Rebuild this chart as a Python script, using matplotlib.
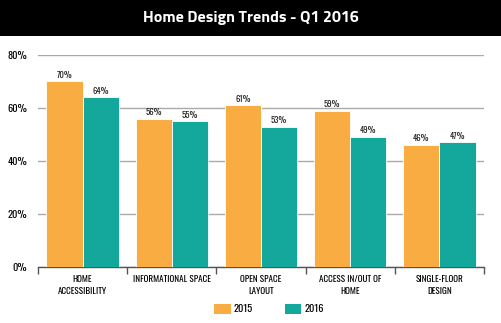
import numpy as np
from matplotlib import pyplot as plt
from matplotlib.patches import Patch

categories = ["HOME\nACCESSIBILITY", "INFORMATIONAL SPACE", "OPEN SPACE\nLAYOUT",
              "ACCESS IN/OUT OF\nHOME", "SINGLE-FLOOR\nDESIGN"]
vals_2015 = [70, 56, 61, 59, 46]
vals_2016 = [64, 55, 53, 49, 47]
yticks = [0, 20, 40, 60, 80]

orange = "#F9AC42"
teal = "#14A89D"
narrow = ["Oswald", "Roboto Condensed", "DejaVu Sans"]

fig = plt.figure(figsize=(5.01, 3.23), dpi=100)
fig.patch.set_facecolor("white")

# black title band
band = fig.add_axes([0, 1 - 36 / 323, 1, 36 / 323])
band.set_facecolor("black")
band.set_xticks([])
band.set_yticks([])
for s in band.spines.values():
    s.set_visible(False)
band.text(0.5, 0.5, "Home Design Trends - Q1 2016", color="white", fontsize=11.5,
          fontweight="bold", family=["Titillium Web", "Open Sans", "DejaVu Sans"],
          ha="center", va="center")

ax = fig.add_axes([38 / 501, 1 - 267 / 323, 446 / 501, 212 / 323])
x = np.arange(len(categories))
w = 0.405
b1 = ax.bar(x - w / 2, vals_2015, w, color=orange, edgecolor="white", linewidth=0.6, zorder=3)
b2 = ax.bar(x + w / 2, vals_2016, w, color=teal, edgecolor="white", linewidth=0.6, zorder=3)

for bars, vals in ((b1, vals_2015), (b2, vals_2016)):
    for r, v in zip(bars, vals):
        ax.text(r.get_x() + r.get_width() / 2, v + 1.0, f"{v}%", ha="center", va="bottom",
                fontsize=6.3, family=narrow, color="#222222")

ax.set_xlim(-0.5, len(categories) - 0.5)
ax.set_ylim(0, 80)
ax.set_yticks(yticks)
ax.set_yticklabels([f"{t}%" for t in yticks], fontsize=7.5, family=narrow, fontweight="bold")
ax.tick_params(axis="y", length=0, pad=8)
ax.yaxis.grid(True, color="#aaaaaa", linewidth=1, zorder=0)
ax.set_axisbelow(True)

ax.set_xticks(np.arange(-0.5, len(categories)))
ax.set_xticklabels([""] * (len(categories) + 1))
ax.tick_params(axis="x", length=5, width=1, color="#555555", direction="out")
for xi, lab in zip(x, categories):
    ax.text(xi, -3.2, lab, ha="center", va="top", fontsize=6.5, fontweight="bold",
            family=narrow, linespacing=1.55)

for s in ("top", "right", "left"):
    ax.spines[s].set_visible(False)
ax.spines["bottom"].set_color("#555555")
ax.spines["bottom"].set_linewidth(1)

handles = [Patch(facecolor=orange, label="2015"), Patch(facecolor=teal, label="2016")]
fig.legend(handles=handles, loc="center", bbox_to_anchor=(0.537, 1 - 309 / 323), ncol=2,
           frameon=False, prop={"family": narrow, "size": 7.5, "weight": "bold"},
           handlelength=1.6, handleheight=1.2, columnspacing=3.0, handletextpad=0.3)

fig.savefig("out.png", dpi=100)
